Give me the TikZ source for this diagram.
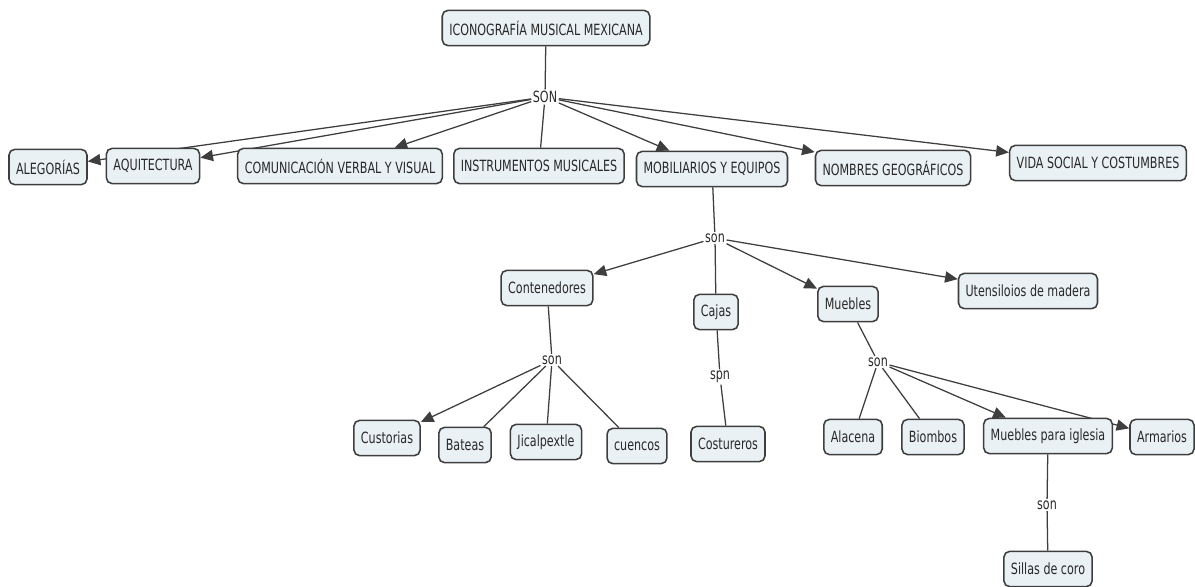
\documentclass[tikz,border=0pt]{standalone}
\usepackage{fontspec}
\setmainfont{DejaVu Sans}[FakeStretch=0.72]
\usepackage{tikz}
\usetikzlibrary{arrows.meta,backgrounds}
\definecolor{cmapB}{RGB}{234,241,244}
\definecolor{cmapL}{RGB}{62,62,62}
\definecolor{cmapT}{RGB}{40,40,40}

\begin{document}
\begin{tikzpicture}[
  x=0.025cm, y=-0.025cm,
  concept/.style={draw=cmapL, line width=1.1pt, fill=cmapB, rounded corners=4pt, text=cmapT,
    font=\fontsize{11}{13}\selectfont, minimum height=0.88cm, inner xsep=5pt},
  link/.style={text=cmapT, font=\fontsize{11}{13}\selectfont, inner sep=1pt},
  conn/.style={draw=cmapL, line width=0.9pt},
  arr/.style={conn, -{Triangle[length=9pt,width=8pt]}}
]
\useasboundingbox (0,0) rectangle (1195,586);
\node[concept] (iconografia) at (546,28) {ICONOGRAFÍA MUSICAL MEXICANA};
\node[link] (son0) at (545,97) {SON};
\node[concept] (alegorias) at (48,167) {ALEGORÍAS};
\node[concept] (aquitectura) at (153,166) {AQUITECTURA};
\node[concept] (comunicacion) at (340,166) {COMUNICACIÓN VERBAL Y VISUAL};
\node[concept] (instrumentos) at (539,166) {INSTRUMENTOS MUSICALES};
\node[concept] (mobiliarios) at (712,169) {MOBILIARIOS Y EQUIPOS};
\node[concept] (nombres) at (893,168) {NOMBRES GEOGRÁFICOS};
\node[concept] (vida) at (1098,163) {VIDA SOCIAL Y COSTUMBRES};
\node[link] (son1) at (715,238) {son};
\node[concept] (contenedores) at (547,288) {Contenedores};
\node[concept] (cajas) at (716,312) {Cajas};
\node[concept] (muebles) at (848,304) {Muebles};
\node[concept] (utensilios) at (1028,291) {Utensiloios de madera};
\node[link] (son2) at (552,360) {son};
\node[link] (spn) at (720,377) {spn};
\node[link] (son3) at (878,362) {son};
\node[concept] (custorias) at (387,438) {Custorias};
\node[concept] (bateas) at (465,445) {Bateas};
\node[concept] (jicalpextle) at (546,442) {Jicalpextle};
\node[concept] (cuencos) at (637,446) {cuencos};
\node[concept] (costureros) at (728,444) {Costureros};
\node[concept] (alacena) at (853,437) {Alacena};
\node[concept] (biombos) at (933,437) {Biombos};
\node[concept] (iglesia) at (1048,436) {Muebles para iglesia};
\node[concept] (armarios) at (1162,437) {Armarios};
\node[link] (son4) at (1047,505) {son};
\node[concept] (sillas) at (1048,569) {Sillas de coro};
\begin{scope}[on background layer]
\draw[conn] (iconografia) -- (son0);
\draw[arr] (son0) -- (alegorias);
\draw[arr] (son0) -- (aquitectura);
\draw[arr] (son0) -- (comunicacion);
\draw[conn] (son0) -- (instrumentos);
\draw[arr] (son0) -- (mobiliarios);
\draw[arr] (son0) -- (nombres);
\draw[arr] (son0) -- (vida);
\draw[conn] (mobiliarios) -- (son1);
\draw[arr] (son1) -- (contenedores);
\draw[conn] (son1) -- (cajas);
\draw[arr] (son1) -- (muebles);
\draw[arr] (son1) -- (utensilios);
\draw[conn] (contenedores) -- (son2);
\draw[arr] (son2) -- (custorias);
\draw[conn] (son2) -- (bateas);
\draw[conn] (son2) -- (jicalpextle);
\draw[conn] (son2) -- (cuencos);
\draw[conn] (cajas) -- (spn) -- (costureros);
\draw[conn] (muebles) -- (son3);
\draw[conn] (son3) -- (alacena);
\draw[conn] (son3) -- (biombos);
\draw[arr] (son3) -- (iglesia);
\draw[arr] (son3) -- (armarios);
\draw[conn] (iglesia) -- (son4) -- (sillas);
\end{scope}
\end{tikzpicture}
\end{document}
